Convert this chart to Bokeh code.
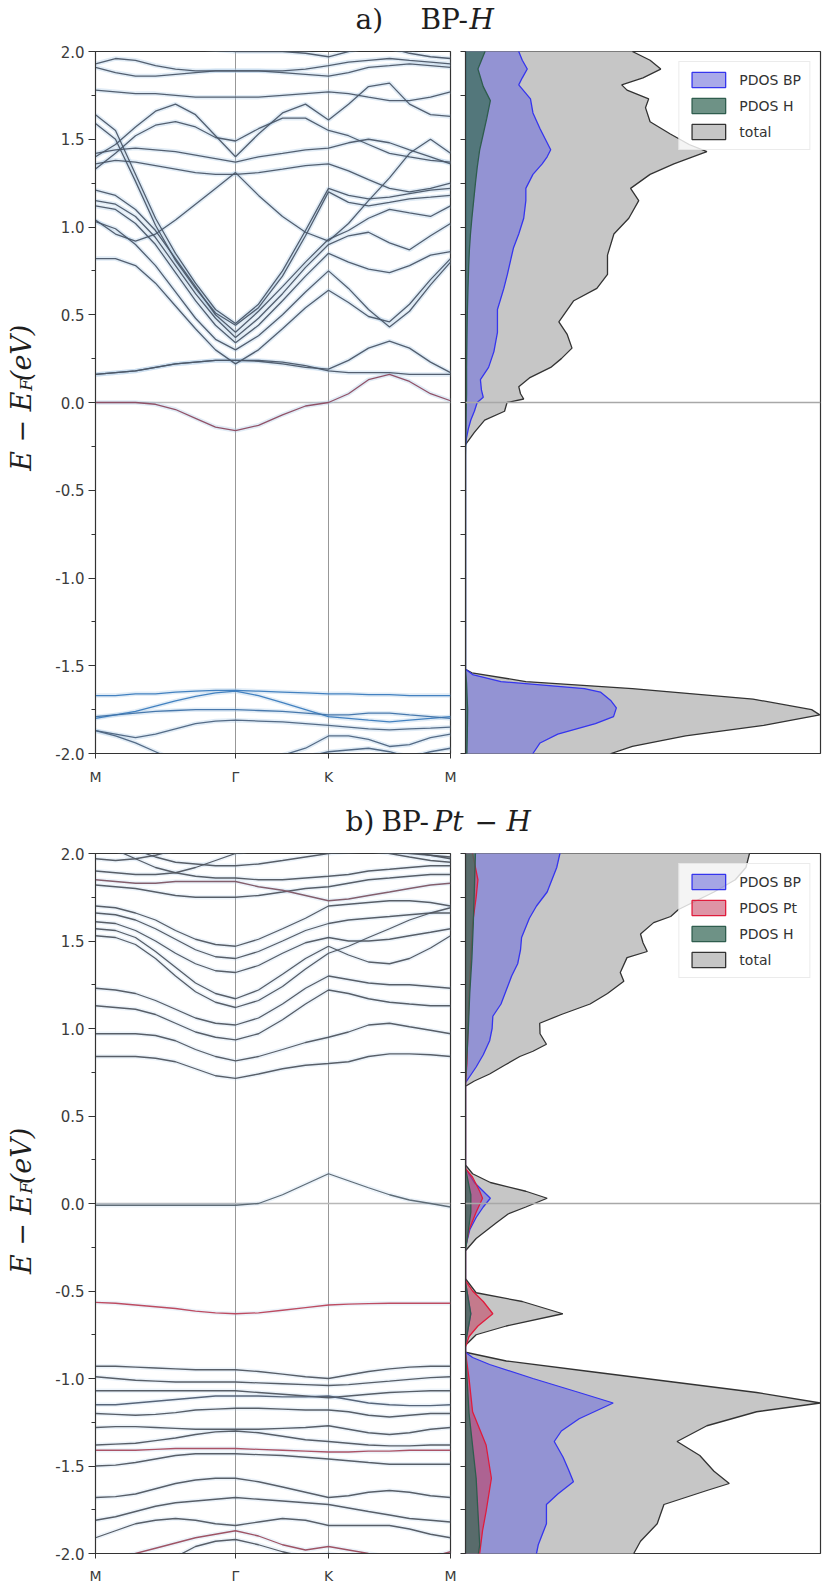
import math
from bokeh.plotting import figure
from bokeh.layouts import column, row
from bokeh.models import Range1d, FixedTicker, Span, Legend, LegendItem, ColumnDataSource
from bokeh.core.properties import value, field
from bokeh.embed import file_html
from bokeh.resources import INLINE

# ---------------- k-path and axes ----------------
K_PATH = [0, 20, 40, 60, 80, 100, 120, 140, 163, 187, 210, 233, 253, 273, 294, 314, 335, 355]
HS_POS = [0, 140, 233, 355]
HS_LABELS = ["M", "Γ", "K", "M"]
E_TICKS = [-2.0, -1.5, -1.0, -0.5, 0.0, 0.5, 1.0, 1.5, 2.0]
E_TICK_LABELS = ["-2.0", "-1.5", "-1.0", "-0.5", "0.0", "0.5", "1.0", "1.5", "2.0"]
E_MINOR = [-1.75, -1.25, -0.75, -0.25, 0.25, 0.75, 1.25, 1.75]
DOS_TICKS = [-2.0, -1.75, -1.5, -1.25, -1.0, -0.75, -0.5, -0.25, 0.0, 0.25, 0.5, 0.75, 1.0, 1.25, 1.5, 1.75, 2.0]

# ---------------- panel a: BP-H bands ----------------
BANDS_A_COND = [
    [0.00, 0.00, 0.00, -0.01, -0.04, -0.09, -0.14, -0.16, -0.13, -0.07, -0.02, 0.00, 0.05, 0.13, 0.16, 0.12, 0.05, 0.01],
    [0.16, 0.17, 0.18, 0.20, 0.22, 0.23, 0.24, 0.24, 0.24, 0.23, 0.21, 0.18, 0.17, 0.17, 0.17, 0.16, 0.16, 0.16],
    [0.16, 0.17, 0.18, 0.20, 0.22, 0.23, 0.24, 0.24, 0.235, 0.22, 0.20, 0.19, 0.24, 0.31, 0.35, 0.31, 0.23, 0.17],
    [0.82, 0.82, 0.78, 0.68, 0.55, 0.42, 0.30, 0.22, 0.30, 0.42, 0.54, 0.64, 0.57, 0.49, 0.46, 0.56, 0.70, 0.82],
    [1.03, 0.99, 0.90, 0.78, 0.63, 0.48, 0.36, 0.30, 0.38, 0.50, 0.63, 0.75, 0.65, 0.53, 0.43, 0.52, 0.67, 0.80],
    [1.12, 1.10, 1.02, 0.90, 0.74, 0.58, 0.44, 0.34, 0.44, 0.58, 0.72, 0.85, 0.80, 0.76, 0.74, 0.78, 0.84, 0.86],
    [1.15, 1.13, 1.06, 0.94, 0.78, 0.62, 0.48, 0.37, 0.48, 0.62, 0.77, 0.90, 0.95, 0.97, 0.91, 0.87, 0.95, 1.02],
    [1.21, 1.18, 1.10, 0.98, 0.82, 0.66, 0.50, 0.40, 0.52, 0.66, 0.80, 0.93, 0.98, 1.05, 1.10, 1.08, 1.06, 1.12],
    [1.64, 1.55, 1.30, 1.05, 0.85, 0.68, 0.53, 0.45, 0.56, 0.75, 0.98, 1.22, 1.18, 1.16, 1.17, 1.19, 1.21, 1.22],
    [1.59, 1.50, 1.26, 1.01, 0.81, 0.65, 0.51, 0.44, 0.54, 0.72, 0.95, 1.20, 1.14, 1.12, 1.14, 1.16, 1.17, 1.18],
    [1.04, 0.96, 0.92, 0.96, 1.04, 1.13, 1.22, 1.31, 1.18, 1.06, 0.97, 0.92, 1.02, 1.15, 1.28, 1.42, 1.50, 1.42],
    [1.36, 1.38, 1.37, 1.35, 1.33, 1.31, 1.30, 1.30, 1.31, 1.33, 1.35, 1.36, 1.32, 1.27, 1.22, 1.20, 1.22, 1.25],
    [1.42, 1.44, 1.45, 1.44, 1.43, 1.41, 1.39, 1.37, 1.40, 1.42, 1.44, 1.45, 1.48, 1.50, 1.48, 1.44, 1.40, 1.36],
    [1.40, 1.47, 1.57, 1.66, 1.70, 1.64, 1.52, 1.40, 1.53, 1.65, 1.70, 1.61, 1.70, 1.80, 1.82, 1.70, 1.64, 1.63],
    [1.33, 1.42, 1.52, 1.58, 1.60, 1.57, 1.51, 1.49, 1.56, 1.62, 1.62, 1.55, 1.52, 1.47, 1.42, 1.40, 1.38, 1.37],
    [1.78, 1.77, 1.76, 1.76, 1.75, 1.74, 1.74, 1.74, 1.74, 1.75, 1.76, 1.77, 1.76, 1.74, 1.72, 1.72, 1.74, 1.77],
    [1.93, 1.96, 1.95, 1.92, 1.90, 1.89, 1.89, 1.89, 1.89, 1.89, 1.90, 1.92, 1.94, 1.95, 1.96, 1.95, 1.94, 1.93],
    [1.91, 1.88, 1.86, 1.86, 1.87, 1.88, 1.89, 1.89, 1.89, 1.88, 1.87, 1.86, 1.88, 1.91, 1.92, 1.93, 1.92, 1.91],
    [2.05, 2.06, 2.08, 2.06, 2.04, 2.02, 2.01, 2.00, 2.00, 2.00, 1.99, 1.97, 2.00, 2.03, 2.02, 1.99, 1.97, 1.96],
]
COLORS_A_COND = ["#8c4a60"] + ["#4b5768"] * 18

BANDS_A_VAL = [
    [-1.67, -1.67, -1.66, -1.66, -1.65, -1.645, -1.64, -1.64, -1.645, -1.65, -1.655, -1.66, -1.66, -1.665, -1.665, -1.67, -1.67, -1.67],
    [-1.80, -1.78, -1.76, -1.73, -1.70, -1.675, -1.655, -1.645, -1.67, -1.71, -1.75, -1.79, -1.80, -1.81, -1.82, -1.81, -1.80, -1.79],
    [-1.79, -1.78, -1.77, -1.76, -1.755, -1.75, -1.75, -1.75, -1.755, -1.76, -1.77, -1.78, -1.78, -1.77, -1.77, -1.78, -1.79, -1.80],
    [-1.87, -1.90, -1.94, -1.99, -2.04, -2.08, -2.10, -2.10, -2.09, -2.06, -2.02, -1.99, -1.98, -1.97, -1.99, -2.02, -1.99, -1.97],
    [-1.87, -1.89, -1.91, -1.89, -1.86, -1.83, -1.815, -1.81, -1.815, -1.82, -1.83, -1.84, -1.85, -1.86, -1.865, -1.86, -1.855, -1.85],
    [-2.10, -2.08, -2.06, -2.05, -2.04, -2.03, -2.03, -2.03, -2.02, -2.01, -1.97, -1.90, -1.90, -1.92, -1.96, -1.95, -1.91, -1.89],
]
COLORS_A_VAL = ["#3a7bbd", "#3a7bbd", "#3f72a8", "#4d6480", "#4d6480", "#4d6480"]

# ---------------- panel b: BP-Pt-H bands ----------------
BANDS_B_COND = [
    [0.84, 0.84, 0.84, 0.83, 0.81, 0.77, 0.73, 0.715, 0.74, 0.77, 0.79, 0.80, 0.81, 0.84, 0.855, 0.855, 0.85, 0.84],
    [0.97, 0.97, 0.97, 0.96, 0.93, 0.88, 0.84, 0.815, 0.84, 0.88, 0.92, 0.95, 0.98, 1.02, 1.03, 1.01, 0.99, 0.97],
    [1.13, 1.12, 1.11, 1.08, 1.03, 0.98, 0.95, 0.935, 0.97, 1.05, 1.14, 1.22, 1.20, 1.17, 1.15, 1.14, 1.13, 1.13],
    [1.23, 1.22, 1.20, 1.16, 1.11, 1.06, 1.03, 1.02, 1.06, 1.14, 1.23, 1.30, 1.28, 1.26, 1.25, 1.25, 1.24, 1.23],
    [1.53, 1.52, 1.48, 1.40, 1.30, 1.21, 1.15, 1.12, 1.16, 1.24, 1.34, 1.43, 1.47, 1.52, 1.57, 1.62, 1.66, 1.69],
    [1.57, 1.56, 1.52, 1.44, 1.35, 1.26, 1.20, 1.17, 1.22, 1.31, 1.40, 1.47, 1.42, 1.38, 1.37, 1.40, 1.46, 1.53],
    [1.61, 1.60, 1.56, 1.50, 1.43, 1.37, 1.33, 1.32, 1.36, 1.43, 1.49, 1.52, 1.50, 1.50, 1.51, 1.53, 1.55, 1.57],
    [1.66, 1.65, 1.62, 1.57, 1.51, 1.45, 1.41, 1.40, 1.44, 1.50, 1.56, 1.60, 1.62, 1.63, 1.64, 1.65, 1.66, 1.66],
    [1.70, 1.69, 1.66, 1.62, 1.56, 1.51, 1.48, 1.47, 1.51, 1.57, 1.63, 1.70, 1.71, 1.72, 1.73, 1.73, 1.72, 1.70],
    [1.82, 1.81, 1.80, 1.78, 1.76, 1.75, 1.75, 1.75, 1.76, 1.78, 1.80, 1.81, 1.83, 1.85, 1.86, 1.87, 1.88, 1.88],
    [1.85, 1.84, 1.83, 1.83, 1.84, 1.84, 1.84, 1.84, 1.81, 1.79, 1.76, 1.73, 1.74, 1.76, 1.78, 1.80, 1.82, 1.83],
    [2.06, 2.02, 1.97, 1.92, 1.89, 1.87, 1.86, 1.86, 1.85, 1.85, 1.86, 1.87, 1.88, 1.90, 1.91, 1.92, 1.93, 1.93],
    [2.12, 2.07, 2.02, 1.98, 1.95, 1.94, 1.93, 1.93, 1.94, 1.96, 1.98, 2.00, 2.01, 2.02, 2.02, 2.01, 1.99, 1.97],
    [1.90, 1.89, 1.88, 1.88, 1.89, 1.92, 1.96, 2.00, 2.03, 2.05, 2.06, 2.05, 2.04, 2.02, 2.00, 1.98, 1.96, 1.95],
    [1.97, 1.96, 1.97, 1.99, 2.02, 2.05, 2.07, 2.08, 2.08, 2.07, 2.06, 2.04, 2.03, 2.02, 2.01, 2.00, 1.99, 1.98],
    [-0.01, -0.01, -0.01, -0.01, -0.01, -0.01, -0.01, -0.01, 0.00, 0.05, 0.11, 0.17, 0.13, 0.09, 0.05, 0.02, 0.00, -0.02],
]
COLORS_B_COND = ["#4f555f"] * 10 + ["#7d5564"] + ["#4f555f"] * 4 + ["#56646f"]

BANDS_B_VAL = [
    [-0.565, -0.57, -0.58, -0.59, -0.60, -0.615, -0.625, -0.63, -0.625, -0.61, -0.595, -0.58, -0.575, -0.572, -0.57, -0.57, -0.57, -0.57],
    [-0.93, -0.93, -0.935, -0.94, -0.945, -0.95, -0.95, -0.95, -0.96, -0.975, -0.99, -1.00, -0.98, -0.96, -0.945, -0.935, -0.93, -0.93],
    [-0.99, -1.00, -1.01, -1.015, -1.02, -1.02, -1.02, -1.02, -1.025, -1.03, -1.035, -1.04, -1.035, -1.025, -1.015, -1.005, -0.995, -0.99],
    [-1.07, -1.07, -1.07, -1.07, -1.07, -1.07, -1.07, -1.07, -1.08, -1.09, -1.10, -1.11, -1.10, -1.09, -1.08, -1.075, -1.07, -1.07],
    [-1.15, -1.15, -1.14, -1.13, -1.12, -1.11, -1.10, -1.10, -1.10, -1.105, -1.105, -1.10, -1.12, -1.14, -1.15, -1.155, -1.155, -1.15],
    [-1.20, -1.205, -1.21, -1.205, -1.195, -1.18, -1.175, -1.17, -1.17, -1.175, -1.18, -1.18, -1.19, -1.21, -1.22, -1.21, -1.20, -1.20],
    [-1.28, -1.275, -1.275, -1.28, -1.285, -1.29, -1.29, -1.29, -1.29, -1.285, -1.28, -1.27, -1.29, -1.31, -1.32, -1.31, -1.29, -1.28],
    [-1.38, -1.375, -1.37, -1.355, -1.34, -1.32, -1.305, -1.30, -1.31, -1.33, -1.35, -1.36, -1.37, -1.38, -1.385, -1.385, -1.38, -1.38],
    [-1.41, -1.41, -1.41, -1.405, -1.40, -1.40, -1.40, -1.40, -1.405, -1.41, -1.415, -1.42, -1.42, -1.415, -1.415, -1.41, -1.41, -1.41],
    [-1.50, -1.495, -1.48, -1.46, -1.44, -1.43, -1.43, -1.43, -1.435, -1.44, -1.45, -1.46, -1.47, -1.48, -1.49, -1.49, -1.49, -1.49],
    [-1.68, -1.675, -1.66, -1.63, -1.60, -1.58, -1.57, -1.57, -1.59, -1.62, -1.65, -1.68, -1.67, -1.65, -1.64, -1.65, -1.67, -1.68],
    [-1.81, -1.79, -1.76, -1.73, -1.71, -1.70, -1.69, -1.68, -1.69, -1.70, -1.71, -1.72, -1.74, -1.76, -1.78, -1.80, -1.81, -1.82],
    [-1.91, -1.87, -1.83, -1.81, -1.80, -1.81, -1.83, -1.84, -1.82, -1.80, -1.81, -1.84, -1.84, -1.84, -1.84, -1.86, -1.89, -1.91],
    [-2.05, -2.03, -2.00, -1.97, -1.94, -1.91, -1.89, -1.87, -1.90, -1.95, -1.98, -1.96, -1.98, -2.00, -2.02, -2.03, -2.02, -1.99],
    [-2.10, -2.10, -2.08, -2.05, -2.02, -1.96, -1.93, -1.92, -1.95, -1.99, -2.02, -2.00, -2.02, -2.05, -2.06, -2.05, -2.03, -2.00],
]
COLORS_B_VAL = ["#bb4258", "#4f555f", "#4f555f", "#4f555f", "#4f5d72", "#4f555f", "#4f555f", "#4f555f",
                "#a84a5e", "#4f555f", "#4f555f", "#4f555f", "#4f555f", "#9a4a5c", "#4f555f"]

# ---------------- panel a: DOS (percent of axis width) ----------------
E_TOT_A = [2.02, 2.00, 1.95, 1.90, 1.85, 1.81, 1.78, 1.73, 1.68, 1.60, 1.53, 1.47, 1.43, 1.40, 1.36, 1.30, 1.22,
           1.15, 1.05, 0.96, 0.84, 0.73, 0.65, 0.58, 0.46, 0.39, 0.31, 0.25, 0.20, 0.14, 0.09, 0.05, 0.02, 0.00,
           -0.05, -0.10, -0.17, -0.24, -1.52, -1.54, -1.59, -1.63, -1.69, -1.75, -1.78, -1.84, -1.90, -1.96, -2.00, -2.02]
TOT_A = [48, 47, 52, 55, 50, 44, 45.5, 51.6, 50.7, 52, 57.7, 63, 68, 64, 58.7, 52, 46.5, 48.8, 46, 41.8, 40, 40, 37,
         30.5, 26.3, 28.6, 30, 27, 24, 18, 15, 15.5, 16.4, 11.7, 11, 5.4, 2.5, 0, 0, 1.8, 17, 47, 81, 97.5, 99.8,
         84, 62, 47, 41, 40]
E_BP_A = [2.02, 2.00, 1.95, 1.90, 1.85, 1.81, 1.73, 1.65, 1.56, 1.50, 1.44, 1.40, 1.36, 1.30, 1.22, 1.15, 1.05,
          0.96, 0.88, 0.81, 0.73, 0.65, 0.53, 0.46, 0.40, 0.29, 0.20, 0.13, 0.07, 0.03, 0.00, -0.05, -0.10, -0.15,
          -0.20, -0.25, -1.52, -1.55, -1.59, -1.63, -1.65, -1.70, -1.74, -1.79, -1.83, -1.89, -1.94, -2.00, -2.02]
BP_A = [15, 15, 16, 17.4, 16, 15, 18.3, 19, 21, 22.5, 24, 23, 21.6, 19, 17, 17, 16.4, 15, 13.5, 12.7, 11.8, 10.8,
        9, 9, 9, 8, 6.5, 4.2, 4.5, 5, 3.3, 2.5, 1.5, 0.8, 0.3, 0, 0, 2, 10, 33.5, 38, 41, 42.5, 41.7, 36.6, 26,
        21, 19, 18.5]
E_H_A = [2.02, 2.00, 1.90, 1.80, 1.72, 1.62, 1.53, 1.44, 1.34, 1.25, 1.15, 1.05, 0.96, 0.87, 0.78, 0.65, 0.50,
         0.35, 0.20, 0.05, -0.05, -0.20, -0.30, -1.52, -1.60, -1.75, -1.90, -2.00, -2.02]
H_A = [5.5, 5.5, 3.5, 5, 7, 6, 5, 4, 3.3, 2.8, 2.3, 1.8, 1.4, 1.1, 0.9, 0.7, 0.5, 0.4, 0.3, 0.3, 0.2, 0.1, 0, 0,
       0.3, 0.6, 0.5, 0.4, 0.4]

# ---------------- panel b: DOS (percent of axis width) ----------------
E_TOT_B = [2.02, 2.00, 1.92, 1.85, 1.78, 1.72, 1.68, 1.64, 1.605, 1.54, 1.49, 1.44, 1.405, 1.32, 1.27, 1.20, 1.14,
           1.08, 1.03, 0.97, 0.91, 0.87, 0.84, 0.79, 0.74, 0.70, 0.67, 0.22, 0.17, 0.12, 0.07, 0.03, -0.02, -0.06,
           -0.11, -0.20, -0.27, -0.43, -0.51, -0.56, -0.63, -0.70, -0.75, -0.81, -0.85, -0.90, -0.96, -1.02,
           -1.08, -1.14, -1.19, -1.27, -1.36, -1.44, -1.53, -1.60, -1.64, -1.72, -1.83, -1.93, -2.00, -2.02]
TOT_B = [80, 80, 79, 76, 70, 64, 60, 57.8, 53, 49.3, 50, 51.2, 45.5, 43.6, 44.6, 40, 35.1, 27, 20.9, 21, 22.8,
         19, 15.3, 11, 6.8, 2.5, 0, 0, 2, 7, 17, 23, 17, 12, 8.7, 3, 0, 0, 3, 16, 27.4, 11.5, 3, 0, 0, 11.5, 35,
         58.5, 82, 100, 82, 68, 59.6, 66, 70, 74.3, 68, 55.9, 54, 49.3, 47.4, 47]
E_BP_B = [2.02, 2.00, 1.92, 1.78, 1.70, 1.63, 1.52, 1.45, 1.37, 1.30, 1.22, 1.14, 1.07, 1.00, 0.93, 0.85, 0.78,
          0.72, 0.69, 0.20, 0.12, 0.07, 0.03, -0.02, -0.08, -0.15, -0.25, -0.45, -0.63, -0.80, -0.85, -0.88,
          -0.92, -1.00, -1.08, -1.14, -1.23, -1.30, -1.36, -1.45, -1.52, -1.59, -1.66, -1.72, -1.83, -1.95,
          -2.00, -2.02]
BP_B = [26.8, 26.6, 25.7, 23, 20, 18, 15.8, 15.5, 14.7, 13, 11.5, 10, 7.7, 7.5, 6.8, 5, 3, 1, 0, 0, 2.5, 5, 7, 5,
        3, 1.2, 0, 0, 1.5, 0, 0, 2, 6.8, 19, 32, 41.6, 32, 27, 25, 27.5, 29, 30.4, 26, 22.8, 22.8, 20.5, 20, 20]
E_PT_B = [2.02, 2.00, 1.85, 1.75, 1.60, 1.40, 1.20, 1.00, 0.80, 0.68, 0.20, 0.15, 0.07, 0.03, -0.05, -0.15,
          -0.25, -0.44, -0.50, -0.56, -0.63, -0.70, -0.76, -0.82, -0.85, -1.00, -1.19, -1.38, -1.57, -1.76,
          -1.87, -2.00, -2.02]
PT_B = [2, 2, 3.5, 3, 2, 1.5, 1, 0.7, 0.4, 0, 0, 2, 4, 4.8, 3, 1, 0, 0, 2, 5, 7.7, 3.5, 1, 0, 0, 1, 2, 5.8, 7.3,
        5.8, 4.8, 4, 4]
E_H_B = [2.02, 2.00, 1.80, 1.60, 1.40, 1.20, 1.00, 0.80, 0.68, 0.20, 0.05, -0.05, -0.20, -0.27, -0.45, -0.63,
         -0.80, -0.85, -1.20, -1.57, -1.76, -1.95, -2.02]
H_B = [2.8, 2.8, 2.5, 2.2, 1.8, 1.2, 0.8, 0.3, 0, 0, 1.5, 1.5, 0.5, 0, 0, 1.5, 0, 0, 1, 3, 3.5, 4, 3.5]

TITLE_A_PARTS = ["a)", "BP-", "H"]
TITLE_B_PARTS = ["b)", "BP-", "Pt", "−", "H"]
YLABEL_PARTS = ["E − E", "F", "(eV)"]

SANS = "DejaVu Sans"
SERIF = "DejaVu Serif"

PAGE_W = 825
YLAB_W, BAND_W, DOS_W = 48, 410, 367
TITLE_A_H, ROW_A_H, ROW_A_BB = 41, 754, 42
TITLE_B_H, ROW_B_H, ROW_B_BB = 48, 743, 31
ROW_A_TOP = TITLE_A_H
ROW_B_TOP = TITLE_A_H + ROW_A_H + TITLE_B_H
BASELINE_FIX = 9.5   # measured offset of the rendered alphabetic baseline


def blank_fig(w, h):
    p = figure(width=w, height=h, x_range=Range1d(0, w), y_range=Range1d(0, h), title=None,
               x_axis_location=None, y_axis_location=None, min_border=0,
               outline_line_color=None, toolbar_location=None, output_backend="svg")
    p.grid.grid_line_color = None
    return p


def title_fig(h, parts, xs_abs, styles, baseline_from_bottom):
    p = blank_fig(PAGE_W, h)
    for t, xa, st in zip(parts, xs_abs, styles):
        p.text(x=[xa], y=[baseline_from_bottom + BASELINE_FIX], text=[t], text_font=value(SERIF),
               text_font_size="28px", text_font_style=st, text_color="#1e1e1e",
               text_align="left", text_baseline="alphabetic")
    return p


def ylabel_fig(h, row_top, center_abs):
    p = blank_fig(YLAB_W, h)
    fs, fs_sub = 27, 17
    w1, w2, w3 = 2.94 * fs, 0.6 * fs_sub + 1, 2.1 * fs
    split = center_abs + (w1 + w2 + w3) / 2.0 - w1

    def fy(yabs):
        return h - (yabs - row_top)

    xb = 30 - BASELINE_FIX
    common = dict(angle=math.pi / 2, text_font=value(SERIF), text_font_style="italic",
                  text_color="#1e1e1e", text_baseline="alphabetic")
    p.text(x=[xb], y=[fy(split)], text=[YLABEL_PARTS[0]], text_font_size=f"{fs}px",
           text_align="right", **common)
    p.text(x=[xb + 5], y=[fy(split - 1)], text=[YLABEL_PARTS[1]], text_font_size=f"{fs_sub}px",
           text_align="left", **common)
    p.text(x=[xb], y=[fy(split - w2)], text=[YLABEL_PARTS[2]], text_font_size=f"{fs}px",
           text_align="left", **common)
    return p


def band_fig(h, bb, xstand, cond, cond_colors, val, val_colors, halo_alpha):
    p = figure(width=BAND_W, height=h, x_range=Range1d(K_PATH[0], K_PATH[-1]), y_range=Range1d(-2, 2),
               title=None, min_border_left=47, min_border_right=8, min_border_top=10, min_border_bottom=bb,
               toolbar_location=None, output_backend="svg")
    p.grid.grid_line_color = None
    p.outline_line_color = "#333333"
    p.outline_line_width = 1.2
    for pos in HS_POS[1:-1]:
        p.add_layout(Span(location=pos, dimension="height", line_color="#8c8c8c",
                          line_width=0.9, level="underlay"))
    p.add_layout(Span(location=0, dimension="width", line_color="#b8b8b8", line_width=1.3, level="underlay"))
    bands = cond + val
    colors = cond_colors + val_colors
    src = ColumnDataSource(dict(xs=[K_PATH] * len(bands), ys=bands, color=colors))
    p.multi_line(xs="xs", ys="ys", source=src, line_color="#a9c8e6", line_alpha=halo_alpha, line_width=4.5)
    p.multi_line(xs="xs", ys="ys", source=src, line_color=field("color"), line_width=1.3, line_alpha=0.95)

    ya = p.yaxis[0]
    ya.ticker = FixedTicker(ticks=E_TICKS, minor_ticks=E_MINOR)
    ya.major_label_overrides = dict(zip(E_TICKS, E_TICK_LABELS))
    ya.major_tick_out, ya.major_tick_in = 7, 0
    ya.minor_tick_out, ya.minor_tick_in = 4, 0
    ya.major_label_standoff = 4
    ya.major_label_text_font = SANS
    ya.major_label_text_font_size = "15px"
    ya.major_label_text_color = "#3c3c3c"
    ya.axis_line_color = "#333333"
    ya.major_tick_line_color = "#333333"
    ya.minor_tick_line_color = "#333333"

    xa = p.xaxis[0]
    xa.ticker = FixedTicker(ticks=HS_POS)
    xa.major_label_overrides = dict(zip(HS_POS, HS_LABELS))
    xa.major_tick_out, xa.major_tick_in = 5, 0
    xa.minor_tick_out, xa.minor_tick_in = 0, 0
    xa.major_label_standoff = xstand
    xa.major_label_text_font = SANS
    xa.major_label_text_font_size = "14px"
    xa.major_label_text_color = "#3c3c3c"
    xa.axis_line_color = "#333333"
    xa.major_tick_line_color = "#333333"
    return p


def dos_patch(p, E, vals, fill, alpha, line):
    xs = [0.0] + list(vals) + [0.0]
    ys = [E[0]] + list(E) + [E[-1]]
    return p.patch(xs, ys, fill_color=fill, fill_alpha=alpha, line_color=line, line_width=1.3)


def dos_fig(h, bb, comps):
    p = figure(width=DOS_W, height=h, x_range=Range1d(0, 100), y_range=Range1d(-2, 2), title=None,
               x_axis_location=None, min_border_left=7, min_border_right=5,
               min_border_top=10, min_border_bottom=bb, toolbar_location=None, output_backend="svg")
    p.grid.grid_line_color = None
    p.outline_line_color = "#333333"
    p.outline_line_width = 1.2
    items = []
    for label, E, vals, fill, alpha, line in comps:
        r = dos_patch(p, E, vals, fill, alpha, line)
        items.append((label, r))
    p.add_layout(Span(location=0, dimension="width", line_color="#a8a8a8", line_width=1.5))
    ya = p.yaxis[0]
    ya.ticker = FixedTicker(ticks=DOS_TICKS)
    ya.major_label_overrides = {t: "" for t in DOS_TICKS}
    ya.major_label_standoff = 0
    ya.major_tick_out, ya.major_tick_in = 5, 0
    ya.minor_tick_out, ya.minor_tick_in = 0, 0
    ya.axis_line_color = "#333333"
    ya.major_tick_line_color = "#333333"
    order = [it for it in items if it[0] != "total"] + [it for it in items if it[0] == "total"]
    legend = Legend(items=[LegendItem(label=l, renderers=[r]) for l, r in order], location="top_right")
    legend.label_text_font = SANS
    legend.label_text_font_size = "14px"
    legend.label_text_color = "#333333"
    legend.glyph_width = 42
    legend.glyph_height = 19
    legend.spacing = 7
    legend.padding = 8
    legend.margin = 10
    legend.label_standoff = 10
    legend.border_line_color = "#d8d8d8"
    legend.background_fill_alpha = 0.8
    p.add_layout(legend)
    return p


TOTAL_STYLE = ("#c6c6c6", 1.0, "#333333")
BP_STYLE = ("#7474dc", 0.62, "#3535ee")
H_STYLE = ("#3d6e5e", 0.75, "#2f5d4e")
PT_STYLE = ("#c23c5c", 0.55, "#e01c3c")

title_a = title_fig(TITLE_A_H, TITLE_A_PARTS, [355, 420, 469], ["normal", "normal", "italic"], 13)
ylab_a = ylabel_fig(ROW_A_H, ROW_A_TOP, 412)
band_a = band_fig(ROW_A_H, ROW_A_BB, 10, BANDS_A_COND, COLORS_A_COND, BANDS_A_VAL, COLORS_A_VAL, 0.35)
dos_a = dos_fig(ROW_A_H, ROW_A_BB, [
    ("total", E_TOT_A, TOT_A) + TOTAL_STYLE,
    ("PDOS BP", E_BP_A, BP_A) + BP_STYLE,
    ("PDOS H", E_H_A, H_A) + H_STYLE,
])

title_b = title_fig(TITLE_B_H, TITLE_B_PARTS, [345, 381, 433, 474, 506],
                    ["normal", "normal", "italic", "normal", "italic"], 13)
ylab_b = ylabel_fig(ROW_B_H, ROW_B_TOP, 1211)
band_b = band_fig(ROW_B_H, ROW_B_BB, 9, BANDS_B_COND, COLORS_B_COND, BANDS_B_VAL, COLORS_B_VAL, 0.22)
dos_b = dos_fig(ROW_B_H, ROW_B_BB, [
    ("total", E_TOT_B, TOT_B) + TOTAL_STYLE,
    ("PDOS BP", E_BP_B, BP_B) + BP_STYLE,
    ("PDOS Pt", E_PT_B, PT_B) + PT_STYLE,
    ("PDOS H", E_H_B, H_B) + H_STYLE,
])

layout = column(title_a, row(ylab_a, band_a, dos_a), title_b, row(ylab_b, band_b, dos_b))

with open("out.html", "w") as f:
    f.write(file_html(layout, INLINE))
